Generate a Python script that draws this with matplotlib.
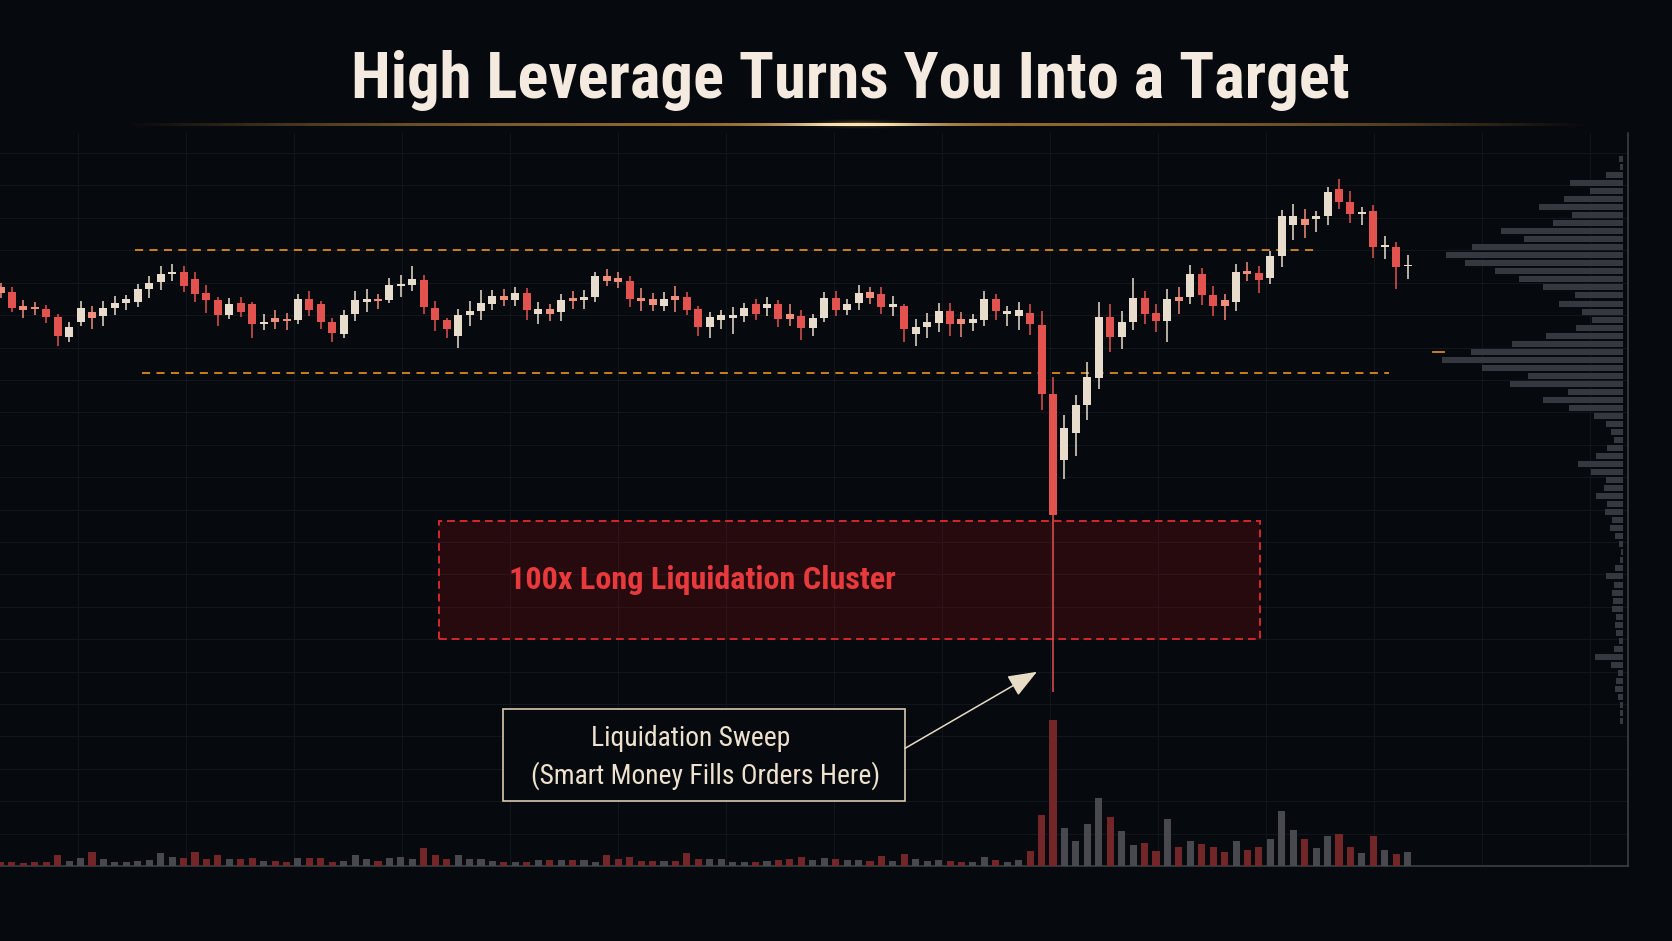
import numpy as np
import matplotlib
matplotlib.use("Agg")
import matplotlib.pyplot as plt
from matplotlib import font_manager
from matplotlib.patches import Rectangle

# ---- price candles (open, close, high, low) ----
opens = [712, 707, 693, 692, 690, 682, 662, 677, 687, 683, 691, 696, 697, 710, 717, 725, 727, 720, 706, 699,
         684, 696, 695, 675, 681, 680, 679, 700, 695, 677, 665, 685, 697, 700, 699, 713, 714, 719, 691, 679,
         663, 684, 688, 695, 703, 699, 706, 685, 690, 687, 701, 699, 702, 723, 721, 718, 701, 700, 693, 703,
         702, 690, 672, 679, 681, 683, 695, 691, 695, 685, 683, 671, 681, 701, 689, 696, 707, 705, 692, 693,
         665, 672, 676, 688, 680, 676, 679, 700, 685, 683, 686, 674, 604, 538, 565, 593, 621, 682, 662, 677,
         701, 686, 678, 702, 702, 725, 704, 699, 697, 728, 726, 721, 743, 774, 780, 780, 783, 811, 798, 786,
         789, 752, 752, 733]
closes = [706, 691, 689, 690, 682, 663, 672, 691, 681, 691, 696, 700, 710, 716, 725, 727, 713, 705, 699, 684,
          695, 687, 675, 677, 677, 678, 700, 689, 677, 666, 684, 699, 700, 698, 714, 715, 720, 692, 679, 670,
          684, 688, 696, 703, 699, 706, 689, 690, 685, 699, 698, 702, 723, 718, 717, 700, 698, 694, 700, 699,
          689, 672, 682, 684, 684, 691, 685, 695, 680, 680, 671, 681, 701, 689, 695, 706, 701, 692, 695, 670,
          672, 677, 688, 675, 675, 680, 700, 688, 688, 689, 675, 604, 483, 570, 593, 622, 682, 662, 677, 701,
          685, 678, 700, 698, 725, 704, 693, 693, 727, 725, 719, 743, 783, 783, 774, 783, 808, 798, 786, 788,
          752, 754, 732, 734]
highs = [716, 712, 699, 697, 694, 685, 677, 698, 693, 698, 703, 704, 715, 723, 733, 735, 733, 727, 714, 702,
         701, 702, 697, 685, 689, 686, 705, 708, 698, 681, 689, 708, 710, 705, 721, 724, 733, 724, 698, 681,
         690, 698, 709, 709, 710, 712, 711, 697, 695, 705, 708, 709, 727, 730, 727, 723, 711, 706, 707, 713,
         707, 693, 687, 689, 692, 696, 700, 702, 699, 695, 689, 685, 707, 708, 700, 714, 712, 712, 703, 695,
         680, 686, 696, 696, 687, 685, 708, 705, 693, 697, 695, 688, 622, 583, 603, 637, 697, 695, 688, 721,
         708, 695, 710, 712, 734, 731, 713, 705, 735, 737, 733, 748, 790, 796, 791, 789, 813, 821, 809, 793,
         795, 763, 757, 744]
lows = [701, 687, 681, 684, 676, 653, 657, 673, 670, 673, 684, 689, 692, 701, 709, 718, 707, 697, 686, 673,
        680, 682, 661, 669, 670, 669, 675, 683, 670, 657, 661, 678, 687, 690, 696, 702, 708, 685, 668, 661,
        651, 673, 679, 689, 693, 693, 679, 675, 678, 678, 690, 690, 697, 713, 711, 692, 688, 688, 688, 687,
        684, 663, 661, 670, 665, 677, 679, 683, 672, 673, 659, 663, 677, 683, 684, 689, 695, 685, 683, 657,
        653, 661, 667, 663, 662, 668, 673, 679, 673, 669, 664, 588, 305, 519, 542, 578, 609, 647, 650, 669,
        675, 667, 657, 685, 695, 694, 683, 679, 688, 718, 706, 715, 732, 759, 761, 767, 774, 791, 776, 774,
        741, 740, 710, 720]

# traded volume per candle
volumes = [3.7, 3.7, 3.3, 4, 3.7, 11, 5, 8.3, 14.3, 6.7, 4.3, 4.3, 5.3, 6, 13.3, 8.7, 8.3, 14.3, 6.7, 11,
           6.7, 6.7, 8.3, 5, 5, 4.3, 8.3, 8.3, 8, 4.3, 5, 11, 6.7, 5.3, 7.7, 9.3, 7, 17.7, 11, 7,
           11, 6.7, 6.7, 5.3, 4.3, 4.3, 4.3, 6, 6, 6, 6, 6, 4.3, 11, 6.7, 9.3, 5, 5, 5, 5,
           12.7, 6.7, 6.7, 6.7, 4.3, 4.3, 4.3, 5, 6, 6.7, 9.3, 6, 7.7, 6.7, 6,
           6, 5.3, 10, 5.3, 12, 6.7, 5, 6, 5.3, 4.3, 4.3, 9.3, 6, 4.3, 6, 15.3, 51, 146, 38, 25,
           42, 68, 48.7, 35, 21, 22.7, 15.3, 46.7, 18.7, 25.3, 22, 19.3, 14, 25.3, 16, 18.7, 26.7, 55, 36, 26.7,
           18.3, 30.3, 31.7, 19.3, 13.3, 30, 16, 11.7, 14.3]

# volume profile, top price bin to bottom price bin
profile_volume = [4.3, 3.3, 17.3, 52.7, 32.7, 58.7, 84, 51, 70, 121.7, 99.3, 150.7, 177.3, 158.3, 128.3,
                  104, 80, 48.3, 64, 40.7, 31.3, 47.3, 76.7, 111, 151.7, 180.7, 140.7, 95, 113.3, 55,
                  80, 54.3, 29, 16.7, 12.3, 8.7, 15.7, 27.3, 45, 32.3, 17.3, 19, 26.7, 16, 17.7,
                  10.7, 13.3, 8.3, 4.3, 2.3, 3.3, 7.7, 17.3, 9.3, 11.3, 10, 10.7, 7.3, 8.3, 6.7,
                  4.3, 9, 28.3, 12.3, 5, 7.3, 8, 5.3, 3.3, 3, 2.7]
profile_top, profile_bottom = 841, 279
poc_price = 648

# key levels and zones (x in candle index)
resistance = 749
resistance_span = (11.76, 114.9)
support = 626
support_span = (12.37, 121.4)
cluster_low, cluster_high = 358, 477
cluster_span = (38.33, 110.1)
sweep_index, sweep_price = 90.6, 325

BG = "#06090d"
CREAM = "#e8ddcc"
RED = "#e2524f"
SALMON = "#ef8f7b"
ORANGE = "#d98a1f"

names = {f.name for f in font_manager.fontManager.ttflist}
narrow = next((n for n in ["Liberation Sans Narrow", "DejaVu Sans Condensed", "Roboto Condensed"]
               if n in names), "Roboto")
plt.rcParams["font.family"] = [narrow, "DejaVu Sans"]

W, H = 1672, 941
fig = plt.figure(figsize=(W / 100, H / 100), dpi=100, facecolor=BG)


def fig_rect(x0, y0, x1, y1):
    return [x0 / W, 1 - y1 / H, (x1 - x0) / W, (y1 - y0) / H]


ax = fig.add_axes(fig_rect(0, 133, 1628, 866))
ax.set_facecolor("none")
ax.set_xlim(-0.044, 142.26)
ax.set_ylim(134, 867)

o = np.array(opens, float)
c = np.array(closes, float)
hi = np.array(highs, float)
lo = np.array(lows, float)
x = np.arange(len(o))
up = c >= o
body = np.abs(c - o)
colors = np.where(up, CREAM, np.where(body < 7, SALMON, RED))

ax.vlines(x, lo, hi, colors=colors, lw=1.1, zorder=4)
ax.bar(x, np.maximum(body, 1.6), bottom=np.minimum(o, c), width=0.7,
       color=colors, linewidth=0, zorder=5)

# grid
ax.set_yticks(np.arange(resistance - 32.6 * 19, 868, 32.6))
ax.set_xticks(np.arange(6.77, 143, 9.44))
ax.grid(color="#11161c", lw=0.8, zorder=0)
ax.tick_params(length=0, labelleft=False, labelbottom=False)
for s in ["top", "left"]:
    ax.spines[s].set_visible(False)
for s in ["bottom", "right"]:
    ax.spines[s].set_color("#3a3f46")
    ax.spines[s].set_linewidth(1.2)

# levels
ax.plot(resistance_span, [resistance, resistance], color=ORANGE, lw=1.3,
        ls=(0, (4.5, 3.5)), zorder=3)
ax.plot(support_span, [support, support], color=ORANGE, lw=1.3,
        ls=(0, (4.5, 3.5)), zorder=3)

# liquidation cluster
ax.add_patch(Rectangle((cluster_span[0], cluster_low), cluster_span[1] - cluster_span[0],
                       cluster_high - cluster_low, facecolor=(0.6, 0.06, 0.08, 0.22),
                       edgecolor="#d3282c", lw=1.4, ls=(0, (4, 2.5)), zorder=2))
t_cluster = ax.text(44.45, (cluster_low + cluster_high) / 2, "100x Long Liquidation Cluster",
                    color="#e8393c", fontweight="bold", ha="left", va="center",
                    fontsize=20, zorder=6)

# callout
ax.add_patch(Rectangle((43.92, 195), 35.14, 93, facecolor=BG, edgecolor="#d9c9ae",
                       lw=1.2, zorder=6))
t_l1 = ax.text(60.3, 258, "Liquidation Sweep", color="#eee2cf", ha="center",
               va="center", fontsize=18, zorder=7)
t_l2 = ax.text(61.6, 221, "(Smart Money Fills Orders Here)", color="#eee2cf",
               ha="center", va="center", fontsize=18, zorder=7)
ax.annotate("", xy=(sweep_index, sweep_price), xytext=(79.07, 248),
            arrowprops=dict(arrowstyle="-|>,head_length=0.9,head_width=0.35",
                            color="#e9dcc6", lw=1.1, mutation_scale=20,
                            shrinkA=0, shrinkB=0), zorder=7)

# volume
ax_v = ax.twinx()
ax_v.set_ylim(0, 733)
ax_v.axis("off")
ax_v.bar(x, volumes, width=0.62, color=np.where(up, "#47494e", "#722627"), linewidth=0)

# volume profile
ax_p = fig.add_axes(fig_rect(1400, 133, 1623, 866))
ax_p.set_facecolor("none")
ax_p.axis("off")
ax_p.set_ylim(134, 867)
ax_p.set_xlim(223, 0)
levels = np.linspace(profile_top, profile_bottom, len(profile_volume))
ax_p.barh(levels, profile_volume, height=6, color="#35383e", linewidth=0)
ax_p.plot([190, 179], [poc_price, poc_price], color=ORANGE, lw=1.3)

# title + gold rule
title = fig.text(850 / W, 1 - 98 / H, "High Leverage Turns You Into a Target",
                 ha="center", va="baseline", fontsize=44, fontweight="bold",
                 color="#f4eadf")

deco = fig.add_axes([0, 0, 1, 1], zorder=-1)
deco.set_xlim(0, W)
deco.set_ylim(H, 0)
deco.axis("off")
xs = np.linspace(-1, 1, 900)
t = np.exp(-(xs / 0.1) ** 2)
rgba = np.zeros((1, xs.size, 4))
gold = np.array([0.78, 0.56, 0.24])
hot = np.array([1.0, 0.95, 0.82])
rgba[0, :, :3] = gold * (1 - t[:, None]) + hot * t[:, None]
rgba[0, :, 3] = np.clip(0.2 + 0.55 * (1 - np.abs(xs) ** 2) + 0.3 * t, 0, 1) * (1 - np.abs(xs) ** 6)
deco.imshow(rgba, extent=[122, 1592, 125.5, 122.5], aspect="auto", interpolation="bilinear")
gy, gx = np.mgrid[-1:1:40j, -1:1:200j]
glow = np.zeros((40, 200, 4))
glow[..., :3] = [1.0, 0.8, 0.45]
glow[..., 3] = 0.35 * np.exp(-(gx / 0.35) ** 2 - (gy / 0.3) ** 2)
deco.imshow(glow, extent=[758, 958, 134, 114], aspect="auto", interpolation="bilinear")

# fit text widths to the reference
r = fig.canvas.get_renderer()


def fit(txt, target):
    w = txt.get_window_extent(r).width
    txt.set_fontsize(txt.get_fontsize() * target / w)


fit(title, 999)
fit(t_cluster, 387)
fit(t_l2, 350)
t_l1.set_fontsize(t_l2.get_fontsize())

fig.savefig("out.png", dpi=100, facecolor=BG)
